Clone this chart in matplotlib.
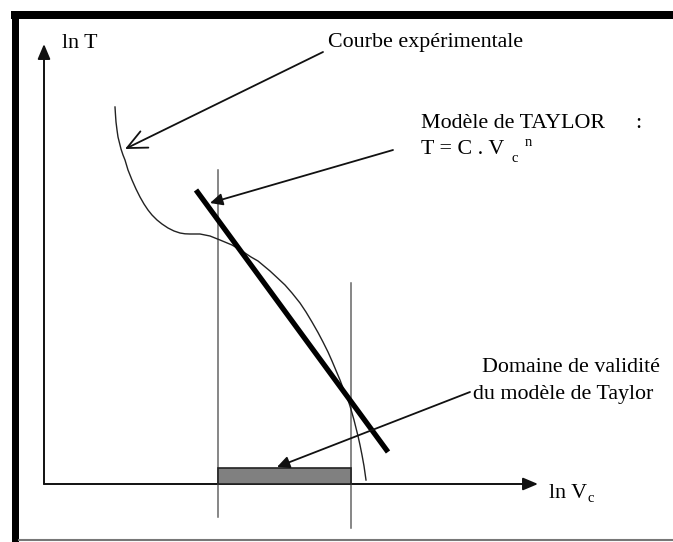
import matplotlib
matplotlib.use("Agg")
import matplotlib.pyplot as plt
from matplotlib.patches import FancyArrowPatch, Rectangle, ArrowStyle

# sketch coordinates (pixel units, y pointing down)
curve_x = [115, 115.5, 116, 117, 118, 119.5, 121, 123, 125, 128, 132, 136, 140,
           144, 148, 152, 157, 162, 168, 174, 180, 185, 190, 195, 200, 205, 210,
           215, 220, 226, 232, 238, 245, 251, 258, 264, 270, 277, 285, 292, 300,
           306, 312, 318, 323, 328, 332, 336, 340, 343, 346, 348, 350, 352, 354,
           356, 358, 360, 362, 364, 365, 366]
curve_y = [107, 115, 122, 130, 137, 143, 149, 155, 160, 170, 180, 189, 197, 204,
           210, 215, 220, 224, 228, 231, 233, 233.8, 234, 234, 234, 235, 236,
           238, 240, 242.5, 245, 248.5, 253, 257, 261, 266, 271, 277.5, 285, 293,
           303, 312, 322, 332.5, 342, 352, 361, 370.5, 380, 388, 395, 400, 406,
           413, 420, 428, 436, 445, 455, 466, 473, 480]
taylor_x = [196, 388]
taylor_y = [190, 452]
valid_x = [218, 351]
valid_top = [170, 283]
valid_bottom = [517, 528]
origin = (44, 484)
axis_end = (538, 44)

plt.rcParams['font.family'] = ['Liberation Serif', 'DejaVu Serif']
FS = 15.8

fig = plt.figure(figsize=(6.73, 5.42), dpi=100)
ax = fig.add_axes([0, 0, 1, 1])
ax.set_xlim(0, 673)
ax.set_ylim(542, 0)
ax.axis('off')

# page frame
ax.add_patch(Rectangle((11, 11), 662, 8, color='black', lw=0))
ax.add_patch(Rectangle((12, 11), 7, 531, color='black', lw=0))
ax.plot([19, 673], [540, 540], color='#777777', lw=1.5)

# axes with filled arrowheads
axis_style = ArrowStyle('-|>', head_length=9, head_width=3.8)
ax.add_patch(FancyArrowPatch(origin, (origin[0], axis_end[1]), arrowstyle=axis_style,
                             mutation_scale=1, lw=1.4, color='#111111',
                             shrinkA=0, shrinkB=0))
ax.add_patch(FancyArrowPatch(origin, (axis_end[0], origin[1]), arrowstyle=axis_style,
                             mutation_scale=1, lw=1.4, color='#111111',
                             shrinkA=0, shrinkB=0))

# validity bounds
for x, y0, y1 in zip(valid_x, valid_top, valid_bottom):
    ax.plot([x, x], [y0, y1], color='#666666', lw=1.1)
ax.add_patch(Rectangle((valid_x[0], 468), valid_x[1] - valid_x[0], 16,
                       facecolor='#808080', edgecolor='#222222', lw=1.2, zorder=3))

# experimental curve and Taylor line
ax.plot(curve_x, curve_y, color='#222222', lw=1.0, solid_joinstyle='round')
ax.plot(taylor_x, taylor_y, color='black', lw=3.8, solid_capstyle='butt')

# pointers
ax.add_patch(FancyArrowPatch((323, 52), (125, 149),
                             arrowstyle=ArrowStyle('->', head_length=14, head_width=6.5),
                             mutation_scale=1, lw=1.3, color='#111111',
                             shrinkA=0, shrinkB=0))
filled = ArrowStyle('-|>', head_length=7.5, head_width=3.6)
ax.add_patch(FancyArrowPatch((393, 150), (210, 203), arrowstyle=filled,
                             mutation_scale=1, lw=1.3, color='#111111',
                             shrinkA=0, shrinkB=0, zorder=4))
ax.add_patch(FancyArrowPatch((470, 392), (277, 467), arrowstyle=filled,
                             mutation_scale=1, lw=1.3, color='#111111',
                             shrinkA=0, shrinkB=0, zorder=4))

# labels
ax.text(62, 43, 'ln T', fontsize=FS, va='center')
ax.text(328, 43, 'Courbe expérimentale', fontsize=FS, va='center')
ax.text(421, 123, 'Modèle de TAYLOR', fontsize=FS, va='center')
ax.text(635, 123, ':', fontsize=FS, va='center')
ax.text(421, 150, 'T = C . V', fontsize=FS, va='center')
ax.text(511, 159, 'c', fontsize=10.5, va='center')
ax.text(525, 143, 'n', fontsize=10.5, va='center')
ax.text(482, 368, 'Domaine de validité', fontsize=FS, va='center')
ax.text(473, 395, 'du modèle de Taylor', fontsize=FS, va='center')
ax.text(549, 493, 'ln V', fontsize=FS, va='center')
ax.text(587, 499, 'c', fontsize=10.5, va='center')

fig.savefig('out.png', dpi=100, facecolor='white')
